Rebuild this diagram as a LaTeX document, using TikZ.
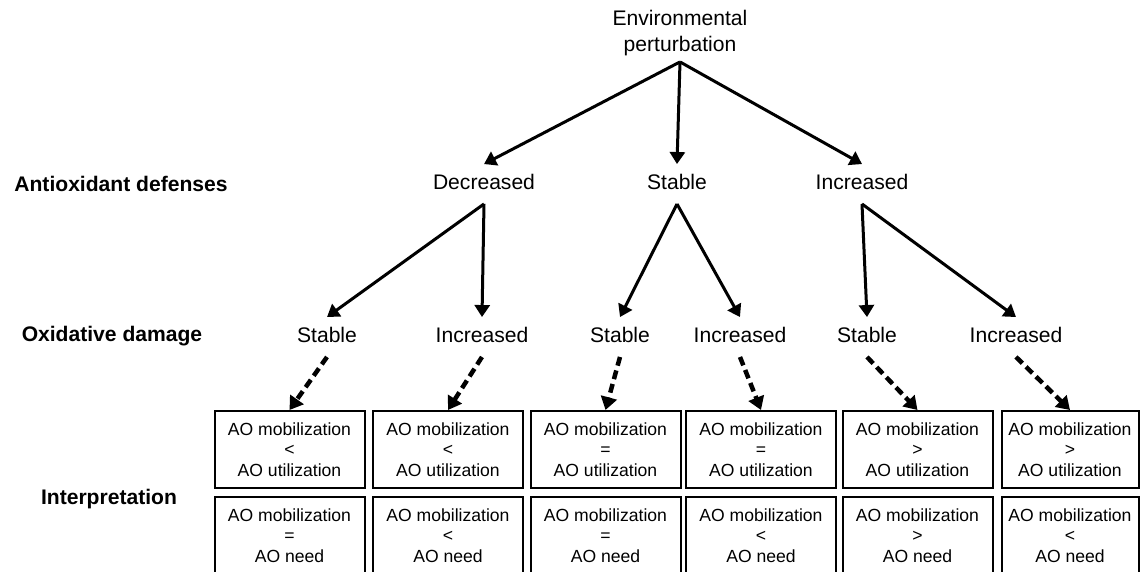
\documentclass[tikz,border=0pt]{standalone}
\usepackage{fontspec}
\setmainfont{Liberation Sans}
\usetikzlibrary{arrows.meta}
\tikzset{
	lbl/.style={font=\fontsize{12}{14.5}\selectfont, inner xsep=0pt, inner ysep=0.19cm, text height=9pt, text depth=2.5pt},
	rowlbl/.style={font=\fontsize{12}{14.5}\selectfont\bfseries, inner sep=0pt},
	aobox/.style={draw, line width=0.04cm, minimum width=3cm, minimum height=1.54cm, inner sep=0pt, align=center, font=\fontsize{10}{11.7}\selectfont},
	arr/.style={line width=0.06cm, -{Triangle[length=0.24cm, width=0.3cm]}},
	darr/.style={line width=0.09cm, dash pattern=on 0.18cm off 0.1cm, -{Triangle[length=0.26cm, width=0.32cm]}}
}

\begin{document}
\begin{tikzpicture}
		%%%%% START %%%%%
		
		\useasboundingbox (0, 0) rectangle (22.82, -11.42);
		\clip (0, 0) rectangle (22.82, -11.42);
		
		\node[font=\fontsize{12}{14.5}\selectfont, align=center, inner sep=0.12cm] (env) at (13.6, -0.66) {Environmental\\perturbation};
		
		\node[rowlbl] (defenses) at (2.42, -3.68) {Antioxidant defenses};
		\node[rowlbl] (damage) at (2.24, -6.72) {Oxidative damage};
		\node[rowlbl] (interp) at (2.18, -9.98) {Interpretation};
		
		\node[lbl] (dec) at (9.68, -3.68) {Decreased};
		\node[lbl] (sta) at (13.54, -3.68) {Stable};
		\node[lbl] (inc) at (17.24, -3.68) {Increased};
		
		\draw[arr] (env.south) -- (dec.north);
		\draw[arr] (env.south) -- (sta.north);
		\draw[arr] (env.south) -- (inc.north);
		
		\node[lbl] (decsta) at (6.54, -6.74) {Stable};
		\node[lbl] (decinc) at (9.64, -6.74) {Increased};
		\node[lbl] (stasta) at (12.4, -6.74) {Stable};
		\node[lbl] (stainc) at (14.8, -6.74) {Increased};
		\node[lbl] (incsta) at (17.34, -6.74) {Stable};
		\node[lbl] (incinc) at (20.32, -6.74) {Increased};
		
		\draw[arr] (dec.south) -- (decsta.north);
		\draw[arr] (dec.south) -- (decinc.north);
		\draw[arr] (sta.south) -- (stasta.north);
		\draw[arr] (sta.south) -- (stainc.north);
		\draw[arr] (inc.south) -- (incsta.north);
		\draw[arr] (inc.south) -- (incinc.north);
		
		% mobilization vs utilization
		\node[aobox] (util1) at (5.79, -8.99) {AO mobilization\\<\\AO utilization};
		\node[aobox] (util2) at (8.96, -8.99) {AO mobilization\\<\\AO utilization};
		\node[aobox] (util3) at (12.11, -8.99) {AO mobilization\\=\\AO utilization};
		\node[aobox] (util4) at (15.22, -8.99) {AO mobilization\\=\\AO utilization};
		\node[aobox] (util5) at (18.35, -8.99) {AO mobilization\\>\\AO utilization};
		\node[aobox, minimum width=2.74cm] (util6) at (21.4, -8.99) {AO mobilization\\>\\AO utilization};
		
		% mobilization vs need
		\node[aobox] (need1) at (5.79, -10.71) {AO mobilization\\=\\AO need};
		\node[aobox] (need2) at (8.96, -10.71) {AO mobilization\\<\\AO need};
		\node[aobox] (need3) at (12.11, -10.71) {AO mobilization\\=\\AO need};
		\node[aobox] (need4) at (15.22, -10.71) {AO mobilization\\<\\AO need};
		\node[aobox] (need5) at (18.35, -10.71) {AO mobilization\\>\\AO need};
		\node[aobox, minimum width=2.74cm] (need6) at (21.4, -10.71) {AO mobilization\\<\\AO need};
		
		\draw[darr] (decsta.south) -- (util1.north);
		\draw[darr] (decinc.south) -- (util2.north);
		\draw[darr] (stasta.south) -- (util3.north);
		\draw[darr] (stainc.south) -- (util4.north);
		\draw[darr] (incsta.south) -- (util5.north);
		\draw[darr] (incinc.south) -- (util6.north);
		
		%%%%% END %%%%%
\end{tikzpicture}
\end{document}
